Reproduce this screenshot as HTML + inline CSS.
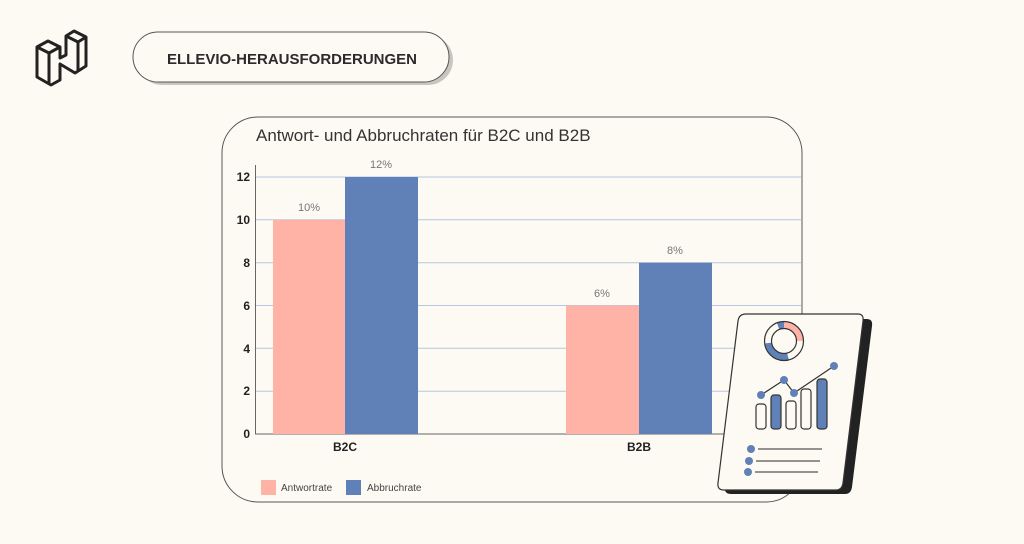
<!DOCTYPE html>
<html><head><meta charset="utf-8"><style>
html,body{margin:0;padding:0;background:#fdfaf3;width:1024px;height:544px;overflow:hidden;font-family:"Liberation Sans",sans-serif}
</style></head><body>
<svg width="1024" height="544" viewBox="0 0 1024 544" xmlns="http://www.w3.org/2000/svg" style="position:absolute;left:0;top:0">
<rect width="1024" height="544" fill="#fdfaf3"/>
<!-- logo -->
<g fill="none" stroke="#222" stroke-width="3" stroke-linejoin="round">
<path d="M37 47 L48 41 L60 47 L60 58 L66 55 L66 36 L74 31 L86 37 L86 66 L75 73 L60 64 L60 80 L51 85 L37 77 Z"/>
<path d="M37 47 L49 53 L60 47 M49 53 L49 84"/>
<path d="M66 36 L78 42 L86 37 M78 42 L78 70"/>
</g>
<!-- pill -->
<rect x="135" y="33" width="316" height="50" rx="25" fill="#c9c6c0" transform="translate(2,2)"/>
<rect x="133" y="32" width="316" height="50" rx="25" fill="#fdfaf3" stroke="#555" stroke-width="1"/>
<text x="292" y="64" text-anchor="middle" font-size="15" font-weight="bold" fill="#2b2b2b">ELLEVIO-HERAUSFORDERUNGEN</text>
<!-- card -->
<rect x="222" y="117" width="580" height="385" rx="36" fill="#fdfaf3" stroke="#555" stroke-width="1"/>
<text x="256" y="141" font-size="17" fill="#333">Antwort- und Abbruchraten für B2C und B2B</text>
<!-- grid -->
<g stroke="#b8c6e0" stroke-width="1">
<line x1="255" y1="177" x2="801" y2="177"/>
<line x1="255" y1="219.8" x2="801" y2="219.8"/>
<line x1="255" y1="262.7" x2="801" y2="262.7"/>
<line x1="255" y1="305.5" x2="801" y2="305.5"/>
<line x1="255" y1="348.3" x2="801" y2="348.3"/>
<line x1="255" y1="391.2" x2="801" y2="391.2"/>
</g>
<line x1="255" y1="434" x2="801" y2="434" stroke="#666"/>
<line x1="255.5" y1="165" x2="255.5" y2="434" stroke="#666"/>
<g font-size="12" font-weight="bold" fill="#222" text-anchor="end">
<text x="250" y="181">12</text><text x="250" y="224">10</text><text x="250" y="267">8</text>
<text x="250" y="310">6</text><text x="250" y="353">4</text><text x="250" y="395">2</text><text x="250" y="438">0</text>
</g>
<rect x="273" y="219.8" width="72" height="214.2" fill="#ffb3a7"/>
<rect x="345" y="177" width="73" height="257" fill="#6080b8"/>
<rect x="566" y="305.5" width="73" height="128.5" fill="#ffb3a7"/>
<rect x="639" y="262.7" width="73" height="171.3" fill="#6080b8"/>
<g font-size="11" fill="#777" text-anchor="middle">
<text x="309" y="211">10%</text><text x="381" y="168">12%</text>
<text x="602" y="297">6%</text><text x="675" y="254">8%</text>
</g>
<g font-size="12" font-weight="bold" fill="#222" text-anchor="middle">
<text x="345" y="451">B2C</text><text x="639" y="451">B2B</text>
</g>
<rect x="261" y="480" width="15" height="15" fill="#ffb3a7"/>
<text x="281" y="491" font-size="10" fill="#444">Antwortrate</text>
<rect x="346" y="480" width="15" height="15" fill="#6080b8"/>
<text x="367" y="491" font-size="10" fill="#444">Abbruchrate</text>
<!-- illustration -->
<path d="M749 317 L863 317 Q869 317 868 324 L848 485 Q847 492 841 492 L727 492 Q720 492 721 485 L741 324 Q742 317 749 317 Z" fill="#222" transform="translate(4,2)"/>
<path d="M746 314 L858 314 Q864 314 863 321 L843 483 Q842 490 836 490 L724 490 Q717 490 718 483 L738 321 Q739 314 746 314 Z" fill="#fdfaf3" stroke="#333" stroke-width="1.2"/>
<g>
<path d="M784 325 A16 16 0 0 1 800 341" fill="none" stroke="#ffb3a7" stroke-width="7"/>
<path d="M800 341 A16 16 0 0 1 788 356.5" fill="none" stroke="#fdfaf3" stroke-width="7"/>
<path d="M788 356.5 A16 16 0 0 1 768 343" fill="none" stroke="#6080b8" stroke-width="7"/>
<path d="M768 343 A16 16 0 0 1 778 326" fill="none" stroke="#fdfaf3" stroke-width="7"/>
<path d="M778 326 A16 16 0 0 1 784 325" fill="none" stroke="#6080b8" stroke-width="7"/>
<circle cx="784" cy="341" r="19.5" fill="none" stroke="#333" stroke-width="1.2"/>
<circle cx="784" cy="341" r="12.5" fill="none" stroke="#333" stroke-width="1.2"/>
</g>
<polyline points="761,395 784,380 794,393 834,366" fill="none" stroke="#333" stroke-width="1.2"/>
<g fill="#6080b8"><circle cx="761" cy="395" r="4"/><circle cx="784" cy="380" r="4"/><circle cx="794" cy="393" r="4"/><circle cx="834" cy="366" r="4"/></g>
<g stroke="#333" stroke-width="1.2">
<rect x="756" y="404" width="10" height="25" rx="3" fill="#fdfaf3"/>
<rect x="771" y="395" width="10" height="34" rx="3" fill="#6080b8"/>
<rect x="786" y="401" width="10" height="28" rx="3" fill="#fdfaf3"/>
<rect x="801" y="389" width="10" height="40" rx="3" fill="#fdfaf3"/>
<rect x="817" y="379" width="10" height="50" rx="3" fill="#6080b8"/>
</g>
<g fill="#6080b8"><circle cx="751" cy="449" r="4"/><circle cx="749" cy="461" r="4"/><circle cx="748" cy="472" r="4"/></g>
<g stroke="#555" stroke-width="1.2"><line x1="758" y1="449" x2="822" y2="449"/><line x1="756" y1="461" x2="820" y2="461"/><line x1="755" y1="472" x2="818" y2="472"/></g>
</svg>
</body></html>
